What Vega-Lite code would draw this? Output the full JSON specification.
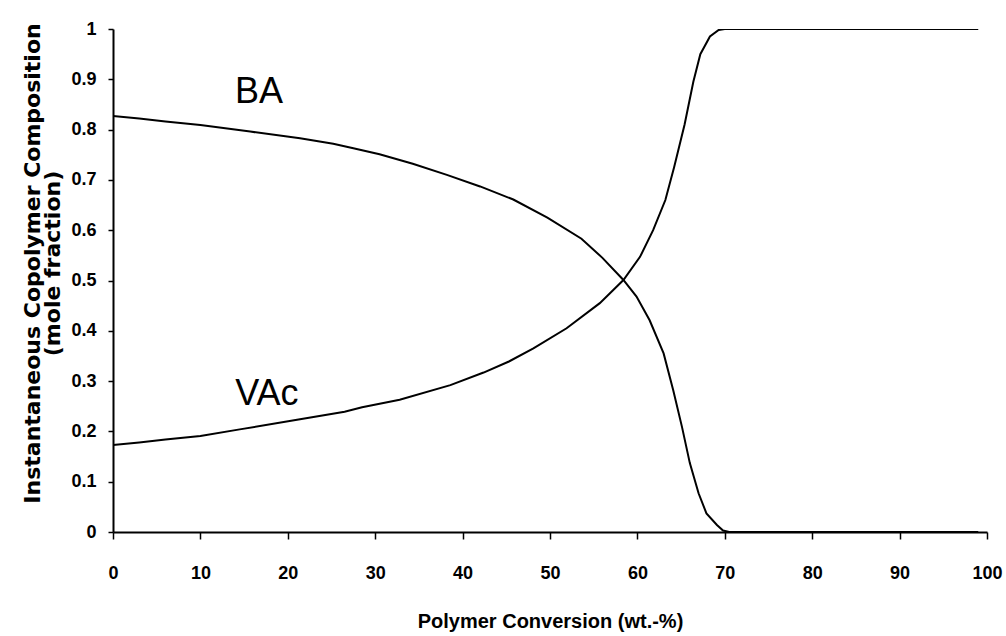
{
  "$schema": "https://vega.github.io/schema/vega-lite/v6.json",
  "width": 874,
  "height": 503,
  "autosize": {"type": "none"},
  "padding": {"left": 113, "top": 29, "right": 19, "bottom": 104},
  "background": "white",
  "config": {"view": {"stroke": null}},
  "datasets": {
    "curves": [
      {"conv": 0, "frac": 0.827, "series": "BA"},
      {"conv": 3, "frac": 0.822, "series": "BA"},
      {"conv": 6, "frac": 0.816, "series": "BA"},
      {"conv": 10, "frac": 0.809, "series": "BA"},
      {"conv": 15.7, "frac": 0.796, "series": "BA"},
      {"conv": 21.4, "frac": 0.783, "series": "BA"},
      {"conv": 25.2, "frac": 0.772, "series": "BA"},
      {"conv": 27.5, "frac": 0.763, "series": "BA"},
      {"conv": 30.5, "frac": 0.751, "series": "BA"},
      {"conv": 34.3, "frac": 0.732, "series": "BA"},
      {"conv": 38.2, "frac": 0.710, "series": "BA"},
      {"conv": 42, "frac": 0.687, "series": "BA"},
      {"conv": 45.8, "frac": 0.661, "series": "BA"},
      {"conv": 49.7, "frac": 0.625, "series": "BA"},
      {"conv": 53.6, "frac": 0.583, "series": "BA"},
      {"conv": 56, "frac": 0.545, "series": "BA"},
      {"conv": 58.4, "frac": 0.501, "series": "BA"},
      {"conv": 59.9, "frac": 0.468, "series": "BA"},
      {"conv": 61.4, "frac": 0.421, "series": "BA"},
      {"conv": 63, "frac": 0.355, "series": "BA"},
      {"conv": 64.1, "frac": 0.282, "series": "BA"},
      {"conv": 65.1, "frac": 0.209, "series": "BA"},
      {"conv": 66, "frac": 0.137, "series": "BA"},
      {"conv": 67, "frac": 0.077, "series": "BA"},
      {"conv": 67.9, "frac": 0.037, "series": "BA"},
      {"conv": 69.1, "frac": 0.014, "series": "BA"},
      {"conv": 69.8, "frac": 0.003, "series": "BA"},
      {"conv": 70.5, "frac": 0, "series": "BA"},
      {"conv": 99, "frac": 0, "series": "BA"},
      {"conv": 0, "frac": 0.173, "series": "VAc"},
      {"conv": 3, "frac": 0.178, "series": "VAc"},
      {"conv": 6, "frac": 0.184, "series": "VAc"},
      {"conv": 10, "frac": 0.191, "series": "VAc"},
      {"conv": 14.5, "frac": 0.204, "series": "VAc"},
      {"conv": 21.4, "frac": 0.224, "series": "VAc"},
      {"conv": 26.5, "frac": 0.239, "series": "VAc"},
      {"conv": 28.5, "frac": 0.248, "series": "VAc"},
      {"conv": 32.8, "frac": 0.263, "series": "VAc"},
      {"conv": 38.6, "frac": 0.292, "series": "VAc"},
      {"conv": 42.4, "frac": 0.317, "series": "VAc"},
      {"conv": 45.3, "frac": 0.339, "series": "VAc"},
      {"conv": 48.1, "frac": 0.365, "series": "VAc"},
      {"conv": 51.9, "frac": 0.405, "series": "VAc"},
      {"conv": 55.7, "frac": 0.455, "series": "VAc"},
      {"conv": 58.4, "frac": 0.501, "series": "VAc"},
      {"conv": 60.3, "frac": 0.547, "series": "VAc"},
      {"conv": 61.8, "frac": 0.600, "series": "VAc"},
      {"conv": 63.2, "frac": 0.660, "series": "VAc"},
      {"conv": 64.2, "frac": 0.725, "series": "VAc"},
      {"conv": 65.4, "frac": 0.810, "series": "VAc"},
      {"conv": 66.4, "frac": 0.895, "series": "VAc"},
      {"conv": 67.2, "frac": 0.950, "series": "VAc"},
      {"conv": 68.3, "frac": 0.985, "series": "VAc"},
      {"conv": 69.3, "frac": 0.998, "series": "VAc"},
      {"conv": 70, "frac": 1.0, "series": "VAc"},
      {"conv": 99, "frac": 1.0, "series": "VAc"}
    ],
    "labels": [
      {"conv": 16.7, "frac": 0.875, "label": "BA"},
      {"conv": 17.6, "frac": 0.274, "label": "VAc"}
    ]
  },
  "encoding": {
    "x": {
      "field": "conv",
      "type": "quantitative",
      "scale": {"domain": [0, 100], "nice": false, "zero": false},
      "axis": {
        "title": "Polymer Conversion (wt.-%)",
        "values": [0, 10, 20, 30, 40, 50, 60, 70, 80, 90, 100],
        "grid": false,
        "domainColor": "black",
        "domainWidth": 2,
        "tickColor": "black",
        "tickWidth": 1.5,
        "tickSize": 7,
        "labelPadding": 25,
        "labelFont": "Liberation Sans, Arial",
        "labelFontWeight": "bold",
        "labelFontSize": 18,
        "labelColor": "black",
        "labelFlush": false,
        "titleFont": "Liberation Sans, Arial",
        "titleFontWeight": "bold",
        "titleFontSize": 20,
        "titleColor": "black",
        "titleBaseline": "top",
        "titleY": 79
      }
    },
    "y": {
      "field": "frac",
      "type": "quantitative",
      "scale": {"domain": [0, 1], "nice": false},
      "axis": {
        "title": ["Instantaneous Copolymer Composition", "(mole fraction)"],
        "values": [0, 0.1, 0.2, 0.3, 0.4, 0.5, 0.6, 0.7, 0.8, 0.9, 1],
        "format": "~g",
        "grid": false,
        "domainColor": "black",
        "domainWidth": 2,
        "tickColor": "black",
        "tickWidth": 1.5,
        "tickSize": 5,
        "labelPadding": 12,
        "labelFont": "Liberation Sans, Arial",
        "labelFontWeight": "bold",
        "labelFontSize": 18,
        "labelColor": "black",
        "labelFlush": false,
        "titleFont": "DejaVu Sans",
        "titleFontWeight": "bold",
        "titleFontSize": 22,
        "titleLineHeight": 20,
        "titleColor": "black",
        "titleAngle": -90,
        "titleAlign": "center",
        "titleBaseline": "middle",
        "titleX": -81,
        "titleY": 234
      }
    }
  },
  "layer": [
    {
      "data": {"name": "curves"},
      "mark": {"type": "line", "color": "black", "strokeWidth": 2, "clip": true},
      "encoding": {"detail": {"field": "series", "type": "nominal"}}
    },
    {
      "data": {"name": "labels"},
      "mark": {"type": "text", "font": "Liberation Sans, Arial", "fontSize": 36, "color": "black", "align": "center", "baseline": "middle"},
      "encoding": {"text": {"field": "label", "type": "nominal"}}
    }
  ]
}
